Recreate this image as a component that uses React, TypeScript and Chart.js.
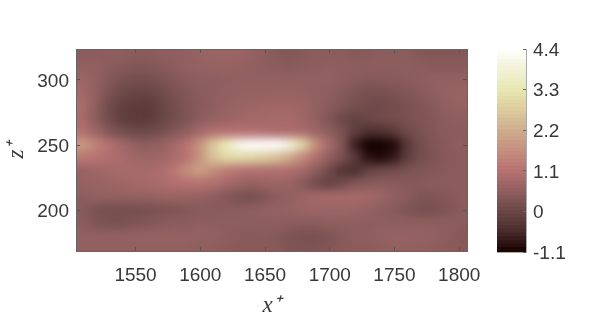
import React, { useEffect, useRef } from "react";
import { Chart, registerables } from "chart.js";

Chart.register(...registerables);

const xCenters = [1500,1510,1520,1530,1540,1550,1560,1570,1580,1590,1600,1610,1620,1630,1640,1650,1660,1670,1680,1690,1700,1710,1720,1730,1740,1750,1760,1770,1780,1790,1800,1810];
const zCenters = [330,320,310,300,290,280,270,260,250,240,230,220,210,200,190,180,170,160];
const z330 = [.45,.45,.45,.5,.5,.45,.45,.5,.5,.55,.62,.68,.7,.68,.6,.5,.4,.35,.4,.45,.45,.45,.38,.42,.45,.45,.45,.35,.35,.35,.35,.35];
const z320 = [.45,.45,.45,.5,.5,.45,.45,.5,.5,.55,.62,.68,.7,.68,.6,.5,.4,.35,.4,.45,.45,.45,.38,.42,.45,.45,.45,.35,.35,.35,.35,.35];
const z310 = [.5,.55,.55,.45,.4,.35,.35,.4,.48,.55,.6,.62,.62,.6,.55,.5,.45,.4,.45,.5,.52,.5,.48,.48,.5,.5,.5,.45,.42,.42,.42,.42];
const z300 = [.7,.7,.55,.38,.22,.15,.15,.22,.36,.46,.5,.5,.52,.55,.55,.55,.55,.55,.55,.55,.55,.5,.45,.4,.4,.42,.48,.5,.55,.55,.55,.55];
const z290 = [.85,.8,.55,.25,.02,-.05,-.05,.05,.2,.34,.45,.5,.55,.6,.6,.6,.62,.62,.6,.55,.5,.4,.25,.18,.18,.25,.32,.42,.5,.6,.65,.65];
const z280 = [.95,.9,.5,.08,-.15,-.22,-.25,-.08,.12,.3,.42,.5,.6,.65,.7,.75,.75,.75,.7,.55,.45,.32,.18,.08,.05,.12,.22,.3,.42,.55,.6,.6];
const z270 = [.95,.85,.45,.08,-.18,-.3,-.25,-.08,.1,.25,.45,.55,.65,.75,.8,.8,.85,.85,.75,.55,.3,.02,-.1,-.02,.1,.12,.2,.28,.35,.45,.5,.5];
const z260 = [1,1,.7,.35,.12,.02,.02,.14,.32,.5,.8,1,1.05,1.05,1,.95,.9,.9,.85,.7,.5,.2,-.2,-.45,-.45,-.25,.05,.2,.35,.45,.45,.45];
const z250 = [1.8,1.8,1.4,1.05,.8,.55,.5,.6,.8,1.1,1.7,2.6,3.4,4.1,4.4,4.4,4.4,3.9,2.9,1.6,.85,.35,-.7,-1.4,-1.4,-1,-.35,.12,.3,.4,.5,.45];
const z240 = [1.2,1.2,1.1,1,.9,.75,.7,.75,.9,1.1,1.7,2.5,2.95,3,2.9,2.75,2.5,2.1,1.5,1,.55,.2,-.3,-.9,-1,-.8,-.25,.1,.25,.4,.45,.45];
const z230 = [.6,.65,.7,.8,.85,.85,.85,.95,1.15,1.6,1.9,1.6,1.3,1.1,1.05,1,1,.95,.8,.45,.1,-.4,-.5,-.12,.05,.12,.22,.3,.35,.4,.45,.45];
const z220 = [.55,.6,.65,.7,.75,.8,.85,.9,1,1.05,1.05,1,.85,.7,.6,.65,.7,.65,.4,.08,-.1,.1,.35,.42,.48,.45,.4,.4,.45,.45,.45,.45];
const z210 = [.5,.5,.55,.55,.55,.6,.6,.65,.65,.65,.6,.5,.35,.22,.15,.28,.45,.55,.7,.8,.85,.85,.85,.8,.7,.55,.45,.3,.3,.35,.45,.45];
const z200 = [.45,.4,.22,.15,.15,.15,.18,.22,.28,.35,.4,.42,.45,.45,.5,.55,.6,.62,.68,.7,.7,.7,.68,.6,.5,.4,.28,.18,.18,.28,.4,.45];
const z190 = [.5,.45,.28,.22,.22,.28,.33,.4,.45,.45,.5,.5,.5,.5,.5,.5,.5,.45,.45,.45,.5,.5,.5,.5,.5,.5,.5,.5,.5,.5,.45,.4];
const z180 = [.55,.55,.55,.55,.55,.58,.6,.6,.6,.6,.58,.55,.5,.45,.4,.42,.38,.28,.2,.2,.28,.4,.5,.5,.58,.62,.62,.6,.55,.5,.4,.35];
const z170 = [.55,.55,.55,.55,.55,.55,.55,.55,.55,.55,.5,.5,.45,.42,.42,.42,.4,.3,.25,.25,.35,.42,.45,.45,.5,.55,.55,.55,.5,.45,.4,.4];
const z160 = [.55,.55,.55,.55,.55,.55,.55,.55,.55,.55,.5,.5,.45,.42,.42,.42,.4,.3,.25,.25,.35,.42,.45,.45,.5,.55,.55,.55,.5,.45,.4,.4];
const fieldRows = [z330,z320,z310,z300,z290,z280,z270,z260,z250,z240,z230,z220,z210,z200,z190,z180,z170,z160];

const xTicks = [1550,1600,1650,1700,1750,1800];
const zTicks = [200,250,300];
const barTicks = [-1.1,0,1.1,2.2,3.3,4.4];
const stopValues = [-1.1,-0.95,-0.5,0,0.5,1.1,1.6,2.2,2.8,3.3,3.9,4.4];
const stopColors = [[22,0,0],[40,14,14],[78,48,48],[108,72,72],[142,94,94],[184,114,114],[196,142,124],[208,174,142],[222,208,160],[232,232,178],[244,244,220],[255,255,255]];
const barLevels = Array.from({ length: 56 }, (_, i) => -1.1 + i * 0.1);

const FONT = "'Liberation Sans', Arial, sans-serif";
const INK = "#383838";

function colorOf(v: number) {
  let i = 0;
  while (i < stopValues.length - 2 && v > stopValues[i + 1]) i++;
  const t = Math.max(0, Math.min(1, (v - stopValues[i]) / (stopValues[i + 1] - stopValues[i])));
  const c = stopColors[i].map((a, k) => Math.round(a + (stopColors[i + 1][k] - a) * t));
  return `rgb(${c[0]},${c[1]},${c[2]})`;
}

const fieldPoints = zCenters.flatMap((z, r) => xCenters.map((x, c) => ({ x, y: z, v: fieldRows[r][c] })));

const smoothPlugin = {
  id: "smooth",
  afterDatasetsDraw(chart: any) {
    const { ctx, canvas, chartArea: a, width, height } = chart;
    ctx.save();
    ctx.beginPath();
    ctx.rect(a.left, a.top, a.right - a.left, a.bottom - a.top);
    ctx.clip();
    ctx.filter = "blur(5px)";
    ctx.drawImage(canvas, 0, 0);
    ctx.restore();
    ctx.clearRect(0, 0, width, a.top);
    ctx.clearRect(0, a.bottom, width, height - a.bottom);
    ctx.clearRect(0, 0, a.left, height);
    ctx.clearRect(a.right, 0, width - a.right, height);
  },
};

function App() {
  const mainRef = useRef<HTMLCanvasElement>(null);
  const barRef = useRef<HTMLCanvasElement>(null);
  useEffect(() => {
    const common = (ticks: number[], min: number, max: number, position: string, visibleLabels: boolean, fit: (s: any) => void, title?: string, titlePad?: any) => ({
      type: "linear",
      position,
      min,
      max,
      afterBuildTicks: (s: any) => { s.ticks = ticks.map((value) => ({ value })); },
      afterFit: fit,
      grid: { drawOnChartArea: false, drawTicks: true, tickLength: -4, tickWidth: 1, tickColor: "#555", z: 1 },
      border: { display: true, color: "#666", width: 1, z: 1 },
      ticks: { display: visibleLabels, padding: position === "bottom" ? 17 : 11, labelOffset: position === "bottom" ? 0 : 1.5, color: INK, font: { family: FONT, size: 19 }, autoSkip: false, maxRotation: 0, z: 1, callback: (v: any) => String(v) },
      title: title
        ? { display: true, text: title, color: INK, padding: titlePad, font: { family: "'Liberation Serif', serif", style: "italic", size: 23 } }
        : { display: false },
    });
    const main = new Chart(mainRef.current!, {
      type: "scatter",
      data: {
        datasets: [{
          data: fieldPoints as any,
          clip: false as any,
          pointStyle: "rect",
          pointRadius: 10.5,
          borderWidth: 0,
          backgroundColor: (c: any) => colorOf(c.raw ? c.raw.v : 0),
        }],
      },
      options: {
        responsive: false,
        animation: false,
        events: [],
        layout: { padding: { left: 0, top: 49, right: 131, bottom: 0 } },
        plugins: { legend: { display: false }, tooltip: { enabled: false } },
        scales: {
          x: common(xTicks, 1504, 1806, "bottom", true, (s) => { s.height = 73; }, "x⁺", { top: 0, bottom: 4 }),
          y: common(zTicks, 169, 323.7, "left", true, (s) => { s.width = 76; }, "z⁺", { top: 3, bottom: 0 }),
          x2: common(xTicks, 1504, 1806, "top", false, (s) => { s.height = 0; }),
          y2: common(zTicks, 169, 323.7, "right", false, (s) => { s.width = 0; }),
        } as any,
      },
      plugins: [smoothPlugin],
    } as any);
    const bar = new Chart(barRef.current!, {
      type: "bar",
      data: {
        labels: ["c"],
        datasets: barLevels.slice(0, -1).map((lo, i) => ({
          data: [[lo, barLevels[i + 1] + 0.02]],
          backgroundColor: colorOf(lo + 0.05),
          borderWidth: 0,
          categoryPercentage: 1,
          barPercentage: 1,
          grouped: false,
        })) as any,
      },
      options: {
        responsive: false,
        animation: false,
        events: [],
        layout: { padding: { left: 0, top: 49, right: 0, bottom: 0 } },
        plugins: { legend: { display: false }, tooltip: { enabled: false } },
        scales: {
          x: { display: true, ticks: { display: false }, grid: { display: false }, border: { color: "#aaa" }, afterFit: (s: any) => { s.height = 72; } },
          x2: { display: true, position: "top", labels: ["c"], ticks: { display: false }, grid: { display: false }, border: { color: "#bbb" }, afterFit: (s: any) => { s.height = 0; } },
          yL: { position: "left", display: true, min: -1.1, max: 4.4, ticks: { display: false }, grid: { display: false }, border: { color: "#aaa" }, afterFit: (s: any) => { s.width = 0; } },
          y: {
            ...common(barTicks, -1.1, 4.4, "right", true, (s) => { s.width = 70; }),
            grid: { drawOnChartArea: false, drawTicks: true, tickLength: -3, tickColor: "#666", z: 1 },
            border: { display: true, color: "#aaa", z: 1 },
            ticks: { padding: 10, labelOffset: 1.5, color: INK, font: { family: FONT, size: 19 }, autoSkip: false, z: 1, callback: (v: any) => String(v) },
          },
        } as any,
      },
    } as any);
    return () => { main.destroy(); bar.destroy(); };
  }, []);
  return (
    <div style={{ position: "absolute", left: 0, top: 0, width: 598, height: 324, background: "#fff", overflow: "hidden" }}>
      <canvas ref={mainRef} width={598} height={324} style={{ position: "absolute", left: 0, top: 0 }} />
      <canvas ref={barRef} width={99} height={324} style={{ position: "absolute", left: 497, top: 0 }} />
    </div>
  );
}

export default App;
